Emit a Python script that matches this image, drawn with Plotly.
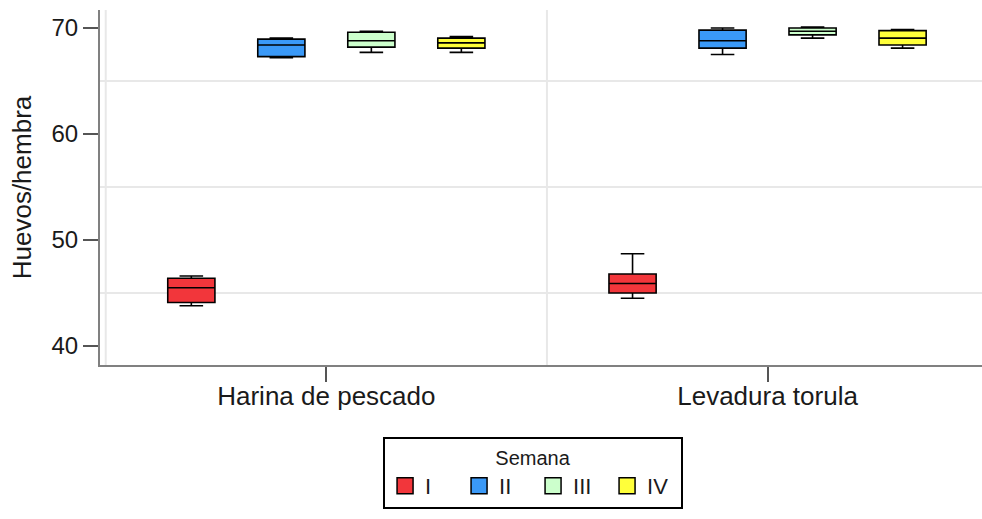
import plotly.graph_objects as go

# Categorías de dieta y semanas de muestreo
categorias = ["Harina de pescado", "Levadura torula"]
semanas = ["I", "II", "III", "IV"]
colores = ["#F2363B", "#3A99F7", "#CCFFCC", "#FFFF3A"]

# Estadísticos de cada caja (una lista por semana, un valor por dieta)
minimo_I = [43.8, 44.5]
q1_I = [44.1, 45.0]
mediana_I = [45.5, 45.9]
q3_I = [46.4, 46.8]
maximo_I = [46.6, 48.7]

minimo_II = [67.2, 67.5]
q1_II = [67.3, 68.1]
mediana_II = [68.4, 68.8]
q3_II = [68.95, 69.8]
maximo_II = [69.05, 70.0]

minimo_III = [67.7, 69.05]
q1_III = [68.2, 69.35]
mediana_III = [68.8, 69.7]
q3_III = [69.6, 70.0]
maximo_III = [69.7, 70.1]

minimo_IV = [67.7, 68.1]
q1_IV = [68.1, 68.4]
mediana_IV = [68.6, 69.05]
q3_IV = [69.05, 69.75]
maximo_IV = [69.2, 69.85]

estadisticos = {
    "I": (minimo_I, q1_I, mediana_I, q3_I, maximo_I),
    "II": (minimo_II, q1_II, mediana_II, q3_II, maximo_II),
    "III": (minimo_III, q1_III, mediana_III, q3_III, maximo_III),
    "IV": (minimo_IV, q1_IV, mediana_IV, q3_IV, maximo_IV),
}

fig = go.Figure()

for semana, color in zip(semanas, colores):
    lo, q1, med, q3, hi = estadisticos[semana]
    fig.add_trace(go.Box(
        x=categorias,
        lowerfence=lo, q1=q1, median=med, q3=q3, upperfence=hi,
        name=semana,
        offsetgroup=semana,
        fillcolor=color,
        line=dict(color="black", width=1.6),
        whiskerwidth=0.5,
        boxpoints=False,
        showlegend=False,
        hoverinfo="skip",
    ))

# Entradas de la leyenda con cuadros de color
for semana, color in zip(semanas, colores):
    fig.add_trace(go.Scatter(
        x=[None], y=[None], mode="markers", name=semana,
        marker=dict(symbol="square", size=16, color=color,
                    line=dict(color="black", width=1.5)),
        showlegend=True,
    ))

grid_color = "#e8e8e8"

fig.update_layout(
    width=982, height=519,
    margin=dict(l=100, r=0, t=10, b=154, autoexpand=False),
    paper_bgcolor="white", plot_bgcolor="white",
    font=dict(family="Liberation Sans, Arial, sans-serif", size=24, color="#1a1a1a"),
    boxmode="group", boxgap=0.184, boxgroupgap=0.476,
    showlegend=True,
    legend=dict(
        orientation="h", x=0.491, xanchor="center", y=-0.203, yanchor="top",
        bordercolor="black", borderwidth=2,
        title=dict(text="Semana", side="top center", font=dict(size=20)),
        font=dict(size=22), entrywidth=29, itemwidth=30,
    ),
    shapes=[
        dict(type="line", xref="x", yref="paper", x0=xv, x1=xv, y0=0, y1=1,
             line=dict(color=grid_color, width=2), layer="below")
        for xv in (-0.5, 0.5)
    ],
)

fig.update_xaxes(
    type="category", range=[-0.513, 1.486],
    showline=True, linecolor="#808080", linewidth=2,
    ticks="outside", ticklen=15, tickwidth=2, tickcolor="#555555",
    ticklabelstandoff=-8, tickfont=dict(size=26),
    showgrid=False, zeroline=False,
)

fig.update_yaxes(
    range=[38.21, 71.70], tickvals=[40, 50, 60, 70],
    showline=True, linecolor="#808080", linewidth=2,
    ticks="outside", ticklen=15, tickwidth=2, tickcolor="#555555",
    tickfont=dict(size=24),
    showgrid=False, zeroline=False,
    minor=dict(tickvals=[45, 55, 65], showgrid=True, gridcolor=grid_color,
               gridwidth=2, ticks=""),
    title=dict(text="Huevos/hembra", standoff=12, font=dict(size=26)),
)

fig.write_html("out.html")
